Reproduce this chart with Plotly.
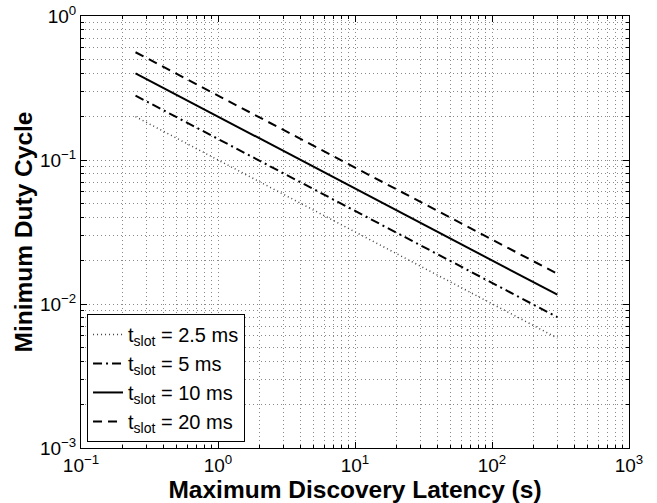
import plotly.graph_objects as go

# Data (log-log straight lines between endpoints)
latency_s = [0.25, 300]
duty_2_5ms = [0.20, 0.0058]
duty_5ms = [0.28, 0.0081]
duty_10ms = [0.40, 0.0116]
duty_20ms = [0.56, 0.0162]

series_names = ["t<sub>slot</sub> = 2.5 ms", "t<sub>slot</sub> = 5 ms",
                "t<sub>slot</sub> = 10 ms", "t<sub>slot</sub> = 20 ms"]

x_tickvals = [0.1, 1, 10, 100, 1000]
x_ticktext = ["10<sup>−1</sup>", "10<sup>0</sup>", "10<sup>1</sup>", "10<sup>2</sup>", "10<sup>3</sup>"]
y_tickvals = [0.001, 0.01, 0.1, 1]
y_ticktext = ["10<sup>−3</sup>", "10<sup>−2</sup>", "10<sup>−1</sup>", "10<sup>0</sup>"]

x_minor = [m * d for d in [0.1, 1, 10, 100] for m in range(2, 10)]
y_minor = [m * d for d in [0.001, 0.01, 0.1] for m in range(2, 10)]

FONT = "Liberation Sans, Arial, Helvetica, sans-serif"

fig = go.Figure()
styles = [
    (duty_2_5ms, dict(color="#444", width=1.5, dash="1px,3px")),
    (duty_5ms, dict(color="black", width=2, dash="9px,4px,2px,4px")),
    (duty_10ms, dict(color="black", width=2, dash="solid")),
    (duty_20ms, dict(color="black", width=2, dash="9px,6px")),
]
for (ys, ln), name in zip(styles, series_names):
    fig.add_trace(go.Scatter(x=latency_s, y=ys, mode="lines", name=name, line=ln))

grid = dict(gridcolor="#8a8a8a", gridwidth=1, griddash="1px,3px")
fig.update_xaxes(
    type="log", range=[-1, 3], tickvals=x_tickvals, ticktext=x_ticktext,
    ticks="inside", ticklen=6, tickcolor="black", showline=True, linecolor="black",
    linewidth=1, mirror="allticks", showgrid=True, zeroline=False, automargin=False, **grid,
    minor=dict(tickvals=x_minor, ticks="inside", ticklen=3, tickcolor="black",
               showgrid=True, **grid),
    tickfont=dict(family=FONT, size=19, color="black"),
    title=dict(text="<b>Maximum Discovery Latency (s)</b>", standoff=0,
               font=dict(family=FONT, size=24.5, color="black")),
)
fig.update_yaxes(
    type="log", range=[-3, 0], tickvals=y_tickvals, ticktext=y_ticktext,
    ticks="inside", ticklen=6, tickcolor="black", showline=True, linecolor="black",
    linewidth=1, mirror="allticks", showgrid=True, zeroline=False, automargin=False, **grid,
    minor=dict(tickvals=y_minor, ticks="inside", ticklen=3, tickcolor="black",
               showgrid=True, **grid),
    tickfont=dict(family=FONT, size=19, color="black"),
    title=dict(text="<b>Minimum Duty Cycle</b>", standoff=0,
               font=dict(family=FONT, size=24.5, color="black")),
)
fig.update_layout(
    width=657, height=503,
    margin=dict(l=81, r=28, t=16, b=55, autoexpand=False),
    paper_bgcolor="white", plot_bgcolor="white",
    font=dict(family=FONT, color="black"),
    legend=dict(x=0.011, y=0.014, xanchor="left", yanchor="bottom",
                bgcolor="white", bordercolor="black", borderwidth=1,
                font=dict(family=FONT, size=20, color="black"),
                tracegroupgap=0, itemwidth=30),
)
fig.write_html("out.html", config={"displayModeBar": False},
               post_script="document.body.style.margin='0';document.body.style.overflow='hidden';")
